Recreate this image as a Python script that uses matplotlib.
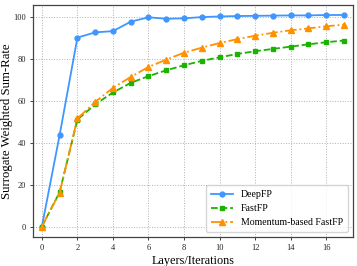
import matplotlib
matplotlib.use("Agg")
import matplotlib.pyplot as plt

layers = list(range(18))
deepfp = [0, 43.7, 90.2, 92.7, 93.3, 97.8, 99.9, 99.2, 99.4, 100.0, 100.3, 100.5, 100.6, 100.7, 100.8, 100.8, 101.0, 101.0]
fastfp = [0, 16.4, 51.1, 58.3, 64.0, 68.6, 71.8, 74.6, 77.0, 79.1, 80.8, 82.4, 83.7, 84.8, 85.9, 87.0, 88.0, 88.8]
momentum = [0, 16.2, 51.6, 59.5, 66.2, 71.4, 76.2, 79.7, 83.0, 85.4, 87.6, 89.5, 91.1, 92.5, 93.7, 94.6, 95.6, 96.4]
xticks = list(range(0, 18, 2))
yticks = [0, 20, 40, 60, 80, 100]

plt.rcParams['font.family'] = ['Liberation Serif', 'DejaVu Serif']

fig = plt.figure(figsize=(3.57, 2.66), dpi=100)
ax = fig.add_axes([0.0924, 0.109, 0.896, 0.874])

ax.plot(layers, deepfp, '-o', color='#3f96ff', lw=1.3, ms=3.5, label='DeepFP', zorder=3)
ax.plot(layers, fastfp, '--s', color='#19b300', lw=1.3, ms=3.5, label='FastFP', zorder=3)
ax.plot(layers, momentum, '-.^', color='#ff9100', lw=1.3, ms=3.8, label='Momentum-based FastFP', zorder=4)

ax.set_xlim(-0.5, 17.5)
ax.set_ylim(-5, 106)
ax.set_xticks(xticks)
ax.set_yticks(yticks)
ax.tick_params(labelsize=6, length=2.5, width=0.6, colors='#222222', pad=2.5)
ax.grid(True, ls=':', color='#b0b0b0', lw=0.7)
for s in ax.spines.values():
    s.set_color('#444444')
    s.set_linewidth(0.9)

ax.set_xlabel('Layers/Iterations', fontsize=8.8, labelpad=2)
ax.set_ylabel('Surrogate Weighted Sum-Rate', fontsize=9.2)
ax.yaxis.set_label_coords(-0.062, 0.5)

ax.legend(loc='lower right', fontsize=7.1, frameon=True, fancybox=True, framealpha=0.8,
          handlelength=2.2, borderpad=0.5, labelspacing=0.5, edgecolor='#cccccc')

fig.savefig('out.png', dpi=100)
